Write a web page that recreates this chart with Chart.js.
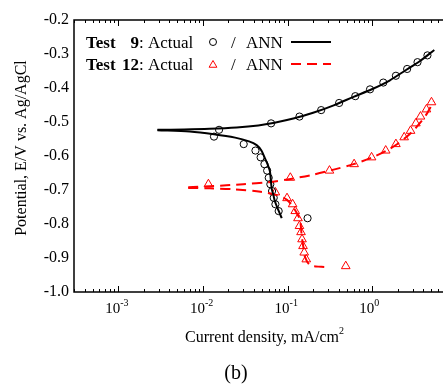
<!DOCTYPE html>
<html>
<head>
<meta charset="utf-8">
<script src="https://cdn.jsdelivr.net/npm/chart.js@4/dist/chart.umd.min.js"></script>
<style>
	body { margin: 0; background: #fff; }
	canvas { display: block; }
</style>
</head>
<body>
<canvas id="chart" width="443" height="385"></canvas>
<script>
// values (current density in mA/cm2, potential in V)
const test9ActualX = [0.0135, 0.0155, 0.0303, 0.0417, 0.048, 0.0532, 0.0573, 0.0598, 0.0625, 0.0655, 0.0685, 0.0717, 0.0784, 0.172,
	0.0638, 0.138, 0.249, 0.406, 0.63, 0.94, 1.35, 1.9, 2.58, 3.42, 4.48];
const test9ActualY = [-0.543, -0.523, -0.565, -0.584, -0.604, -0.624, -0.643, -0.664, -0.683, -0.703, -0.723, -0.742, -0.762, -0.783,
	-0.504, -0.484, -0.465, -0.444, -0.424, -0.404, -0.384, -0.364, -0.344, -0.324, -0.304];

const test9AnnUpperX = [0.0029, 0.006, 0.012, 0.025, 0.045, 0.07, 0.12, 0.2, 0.35, 0.6, 1.0, 1.6, 2.5, 3.6, 5.4];
const test9AnnUpperY = [-0.523, -0.522, -0.520, -0.516, -0.510, -0.502, -0.489, -0.473, -0.451, -0.426, -0.403, -0.378, -0.347, -0.322, -0.288];
const test9AnnLowerX = [0.0029, 0.007, 0.0135, 0.024, 0.035, 0.0431, 0.049, 0.054, 0.0585, 0.0619, 0.0648, 0.068, 0.0709, 0.078, 0.0853];
const test9AnnLowerY = [-0.524, -0.528, -0.536, -0.546, -0.557, -0.568, -0.584, -0.607, -0.627, -0.646, -0.695, -0.715, -0.734, -0.760, -0.783];

const test12ActualX = [0.0116, 0.1076, 0.312, 0.61, 0.98, 1.44, 1.9, 2.38, 2.83, 3.27, 3.71, 4.36, 5.0,
	0.0717, 0.0984, 0.1146, 0.123, 0.1325, 0.138, 0.144, 0.148, 0.152, 0.157, 0.166, 0.486];
const test12ActualY = [-0.683, -0.664, -0.643, -0.624, -0.604, -0.584, -0.565, -0.545, -0.526, -0.504, -0.484, -0.463, -0.442,
	-0.707, -0.724, -0.742, -0.762, -0.783, -0.806, -0.824, -0.845, -0.865, -0.884, -0.904, -0.924];

const test12AnnUpperX = [0.0067, 0.012, 0.03, 0.06, 0.1, 0.2, 0.35, 0.6, 1.0, 1.5, 2.0, 2.5, 3.0, 3.6, 4.4, 5.3];
const test12AnnUpperY = [-0.692, -0.689, -0.683, -0.677, -0.669, -0.655, -0.640, -0.624, -0.604, -0.583, -0.564, -0.545, -0.527, -0.505, -0.476, -0.440];
const test12AnnLowerX = [0.0067, 0.012, 0.0232, 0.0478, 0.075, 0.0984, 0.115, 0.129, 0.14, 0.147, 0.153, 0.16, 0.184, 0.25, 0.30];
const test12AnnLowerY = [-0.694, -0.695, -0.698, -0.705, -0.715, -0.729, -0.749, -0.769, -0.788, -0.837, -0.866, -0.896, -0.921, -0.926, -0.927];

const xMin = 3.0e-4, xMax = 6.84;
const yMin = -1.0, yMax = -0.2;
const xTickExponents = [-3, -2, -1, 0];

const SERIF = "'Liberation Serif', 'Times New Roman', serif";
const RED = '#ff0000';

function toPoints(xs, ys) {
	return xs.map((x, i) => ({ x: x, y: ys[i] }));
}

// frame, inward log ticks, x labels with superscripts, titles and the legend
const decorPlugin = {
	id: 'decor',
	afterDraw(chart) {
		const ctx = chart.ctx;
		const a = chart.chartArea;
		const xs = chart.scales.x;
		ctx.save();

		// left, top and bottom axis lines (the right side runs off the picture)
		ctx.strokeStyle = '#000';
		ctx.lineWidth = 1.5;
		ctx.beginPath();
		ctx.moveTo(chart.width, a.top);
		ctx.lineTo(a.left, a.top);
		ctx.lineTo(a.left, a.bottom);
		ctx.lineTo(chart.width, a.bottom);
		ctx.stroke();

		ctx.lineWidth = 1;
		ctx.beginPath();
		for (let d = -4; d <= 0; d++) {
			for (let m = 1; m <= 9; m++) {
				const v = m * Math.pow(10, d);
				if (v < xMin || v > xMax) continue;
				const px = Math.round(xs.getPixelForValue(v)) + 0.5;
				const len = m === 1 ? 6 : 3;
				ctx.moveTo(px, a.bottom);
				ctx.lineTo(px, a.bottom - len);
				ctx.moveTo(px, a.top);
				ctx.lineTo(px, a.top + len);
			}
		}
		ctx.stroke();

		// x tick labels: 10 with raised exponent
		ctx.fillStyle = '#000';
		ctx.textBaseline = 'alphabetic';
		xTickExponents.forEach(e => {
			const px = xs.getPixelForValue(Math.pow(10, e));
			ctx.font = '15px ' + SERIF;
			ctx.textAlign = 'right';
			ctx.fillText('10', px + 2, 313);
			ctx.font = '10px ' + SERIF;
			ctx.textAlign = 'left';
			ctx.fillText(e === 0 ? '0' : '-' + Math.abs(e), px + 2, 306);
		});

		// axis titles
		ctx.font = '16px ' + SERIF;
		ctx.textAlign = 'left';
		const xTitle = 'Current density, mA/cm';
		const tw = ctx.measureText(xTitle).width;
		const tx = 262 - tw / 2;
		ctx.fillText(xTitle, tx, 342);
		ctx.font = '10px ' + SERIF;
		ctx.fillText('2', tx + tw, 334);

		ctx.save();
		ctx.translate(22, 148);
		ctx.rotate(-Math.PI / 2);
		ctx.font = '16px ' + SERIF;
		ctx.textAlign = 'center';
		ctx.textBaseline = 'middle';
		ctx.fillText('Potential, E/V vs. Ag/AgCl', 0, 0);
		ctx.restore();

		ctx.font = '20px ' + SERIF;
		ctx.textAlign = 'center';
		ctx.fillText('(b)', 236, 379);

		// legend
		const rows = [
			{ num: '9', y: 48, marker: 'circle', color: '#000', dash: [] },
			{ num: '12', y: 70, marker: 'triangle', color: RED, dash: [10, 6] }
		];
		rows.forEach(r => {
			ctx.fillStyle = '#000';
			ctx.font = 'bold 17px ' + SERIF;
			ctx.textAlign = 'left';
			ctx.fillText('Test', 86, r.y);
			ctx.textAlign = 'right';
			ctx.fillText(r.num, 139, r.y);
			ctx.font = '17px ' + SERIF;
			ctx.textAlign = 'left';
			ctx.fillText(': Actual', 139, r.y);
			ctx.fillText('/', 231, r.y);
			ctx.fillText('ANN', 246, r.y);

			ctx.strokeStyle = r.color;
			ctx.lineWidth = 1;
			ctx.beginPath();
			if (r.marker === 'circle') {
				ctx.arc(213, r.y - 6, 3.5, 0, Math.PI * 2);
			} else {
				const cy = r.y - 5, rad = 4.5;
				ctx.moveTo(213, cy - rad);
				ctx.lineTo(213 + rad * 0.866, cy + rad / 2);
				ctx.lineTo(213 - rad * 0.866, cy + rad / 2);
				ctx.closePath();
			}
			ctx.stroke();

			ctx.lineWidth = 2;
			ctx.setLineDash(r.dash);
			ctx.beginPath();
			ctx.moveTo(291, r.y - 6);
			ctx.lineTo(331, r.y - 6);
			ctx.stroke();
			ctx.setLineDash([]);
		});

		ctx.restore();
	}
};

const lineStyle = {
	pointRadius: 0,
	fill: false,
	tension: 0.3,
	borderWidth: 2
};

const ctx = document.getElementById('chart').getContext('2d');

new Chart(ctx, {
	type: 'line',
	data: {
		datasets: [
			Object.assign({ data: toPoints(test9AnnUpperX, test9AnnUpperY), borderColor: '#000' }, lineStyle),
			Object.assign({ data: toPoints(test9AnnLowerX, test9AnnLowerY), borderColor: '#000' }, lineStyle),
			Object.assign({ data: toPoints(test12AnnUpperX, test12AnnUpperY), borderColor: RED, borderDash: [10, 6] }, lineStyle),
			Object.assign({ data: toPoints(test12AnnLowerX, test12AnnLowerY), borderColor: RED, borderDash: [10, 6] }, lineStyle),
			{
				data: toPoints(test9ActualX, test9ActualY),
				showLine: false,
				pointStyle: 'circle',
				pointRadius: 3.6,
				pointBorderWidth: 1,
				pointBorderColor: '#000',
				pointBackgroundColor: 'rgba(0,0,0,0)'
			},
			{
				data: toPoints(test12ActualX, test12ActualY),
				showLine: false,
				pointStyle: 'triangle',
				pointRadius: 5,
				pointBorderWidth: 1,
				pointBorderColor: RED,
				pointBackgroundColor: 'rgba(0,0,0,0)'
			}
		]
	},
	options: {
		responsive: false,
		animation: false,
		layout: { autoPadding: false, padding: { top: 20, right: 0, left: 0, bottom: 0 } },
		plugins: {
			legend: { display: false },
			tooltip: { enabled: false }
		},
		scales: {
			x: {
				type: 'logarithmic',
				min: xMin,
				max: xMax,
				grid: { display: false },
				border: { display: false },
				ticks: { display: false },
				afterFit: s => { s.height = 93; }
			},
			y: {
				min: yMin,
				max: yMax,
				grid: { display: false, drawTicks: false },
				border: { display: false },
				ticks: {
					stepSize: 0.1,
					padding: 5,
					color: '#000',
					font: { family: SERIF, size: 16 },
					callback: v => v.toFixed(1)
				},
				afterFit: s => { s.width = 74; }
			}
		}
	},
	plugins: [decorPlugin]
});
</script>
</body>
</html>
